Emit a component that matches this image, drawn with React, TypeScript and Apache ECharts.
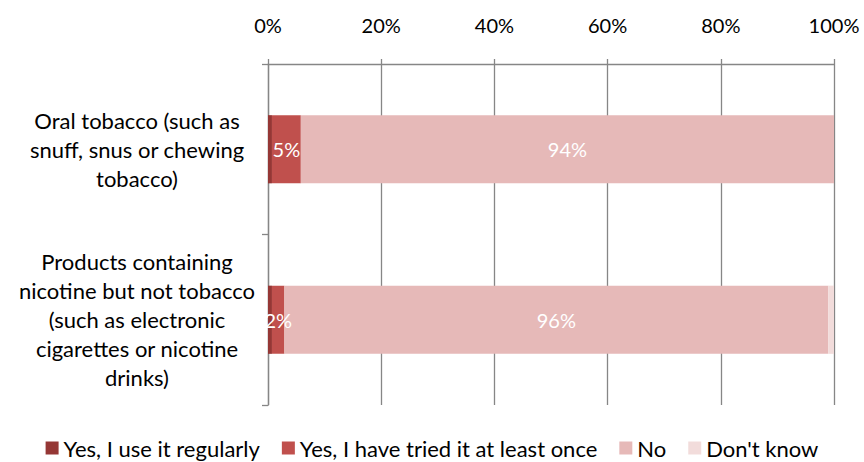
import React, { useEffect, useRef } from "react";
import * as echarts from "echarts";

const categories = [
  "Oral tobacco (such as\nsnuff, snus or chewing\ntobacco)",
  "Products containing\nnicotine but not tobacco\n(such as electronic\ncigarettes or nicotine\ndrinks)",
];
const seriesNames = ["Yes, I use it regularly", "Yes, I have tried it at least once", "No", "Don't know"];
const useRegularly = [0.7, 0.7];
const triedOnce = [5.1, 2.2];
const noValues = [94.2, 96.1];
const dontKnow = [0.0, 1.0];
const showLabel = [false, true, true, false];
const colors = ["#953735", "#c0504d", "#e6b9b8", "#f2dcdb"];
const xTicks = [0, 20, 40, 60, 80, 100];

export default function App() {
  const ref = useRef<HTMLDivElement>(null);
  useEffect(() => {
    if (!ref.current) return;
    const chart = echarts.init(ref.current, undefined, { renderer: "svg" });
    const font = "Lato, 'Open Sans', sans-serif";
    const data = [useRegularly, triedOnce, noValues, dontKnow];
    chart.setOption({
      animation: false,
      textStyle: { fontFamily: font },
      grid: { left: 268, right: 30, top: 64, bottom: 57 },
      xAxis: {
        type: "value",
        position: "top",
        min: xTicks[0],
        max: xTicks[xTicks.length - 1],
        interval: 20,
        axisLine: { show: true, lineStyle: { color: "#868686", width: 1.3 } },
        axisTick: { show: true, length: 5, lineStyle: { color: "#868686", width: 1.3 } },
        splitLine: { show: true, lineStyle: { color: "#868686", width: 1.3 } },
        axisLabel: {
          formatter: "{value}%",
          fontSize: 20,
          color: "#000",
          margin: 29,
          fontFamily: font,
        },
      },
      yAxis: {
        type: "category",
        data: categories,
        inverse: true,
        axisLine: { show: true, lineStyle: { color: "#868686", width: 1.3 } },
        axisTick: { show: true, length: 6, lineStyle: { color: "#868686", width: 1.3 } },
        axisLabel: {
          fontSize: 22,
          color: "#000",
          align: "center",
          margin: 131,
          lineHeight: 29,
          fontFamily: font,
        },
      },
      legend: {
        bottom: 3,
        left: "center",
        padding: [0, 5],
        itemWidth: 13,
        itemHeight: 13,
        itemGap: 22,
        icon: "rect",
        textStyle: { fontSize: 22, color: "#000", fontFamily: font },
        data: seriesNames,
      },
      series: seriesNames.map((name, i) => ({
        name,
        type: "bar",
        stack: "total",
        barWidth: "40%",
        itemStyle: { color: colors[i] },
        label: {
          show: showLabel[i],
          position: "inside",
          color: "#fff",
          fontSize: 20,
          fontFamily: font,
          formatter: (p: any) => Math.round(p.value) + "%",
        },
        data: data[i],
      })),
    });
    return () => chart.dispose();
  }, []);
  return (
    <div
      ref={ref}
      style={{ position: "absolute", left: 0, top: 0, width: 864, height: 462 }}
    />
  );
}
